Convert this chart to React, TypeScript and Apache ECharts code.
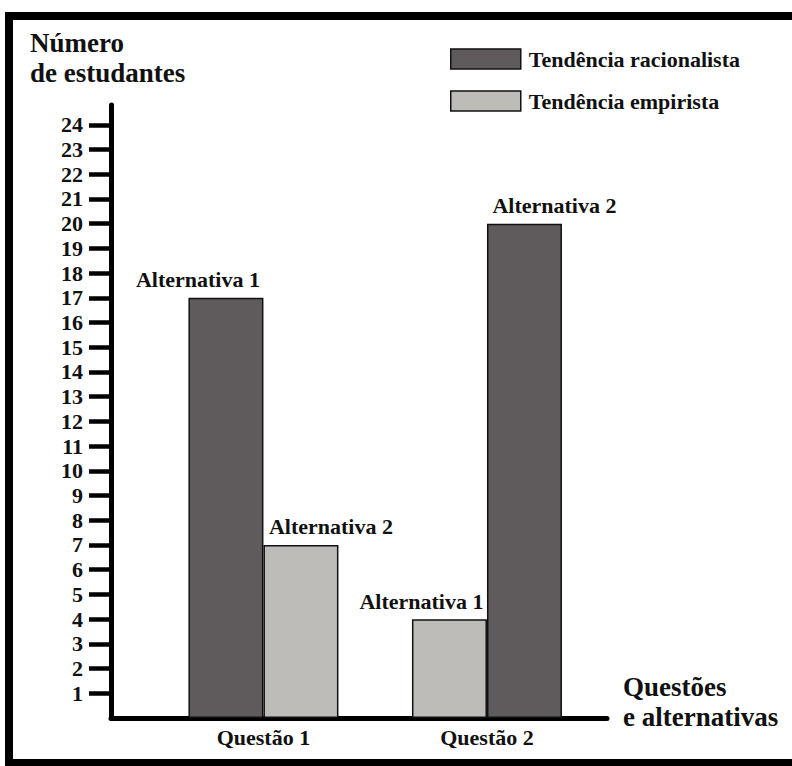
import React, { useEffect, useRef } from "react";
import * as echarts from "echarts";

const questions = ["Questão 1", "Questão 2"];
const questionIndex = [1, 2];
const alternativa1 = [17, 4];
const alternativa2 = [7, 20];
const tendencia1 = ["racionalista", "empirista"];
const tendencia2 = ["empirista", "racionalista"];
const tendencias = ["racionalista", "empirista"];
const tendenciaNames = ["Tendência racionalista", "Tendência empirista"];
const yTicks = [1, 2, 3, 4, 5, 6, 7, 8, 9, 10, 11, 12, 13, 14, 15, 16, 17, 18, 19, 20, 21, 22, 23, 24];
const yTitle = "Número\nde estudantes";
const xTitle = "Questões\ne alternativas";

const FONT = "Liberation Serif";
const colors: Record<string, string> = {
  racionalista: "#5f5a5c",
  empirista: "#bebcb9",
};
const INK = "#111";

export default function App() {
  const ref = useRef<HTMLDivElement>(null);
  useEffect(() => {
    if (!ref.current) return;
    const chart = echarts.init(ref.current, null, { renderer: "svg" });
    const barLabel = (dx: number) => ({
      show: true,
      position: "top",
      distance: 7,
      offset: [dx, 0],
      formatter: "{a}",
      fontFamily: FONT,
      fontWeight: "bold",
      fontSize: 22,
      color: INK,
    });
    const mkBar = (name: string, vals: number[], tend: string[], dx: number) => ({
      name,
      type: "bar",
      barWidth: 75,
      barGap: "0%",
      data: questionIndex.map((q, i) => ({
        value: [q, vals[i]],
        itemStyle: { color: colors[tend[i]], borderColor: INK, borderWidth: 1.5 },
      })),
      label: barLabel(dx),
    });
    const titleText = {
      fontFamily: FONT,
      fontWeight: "bold",
      fontSize: 27,
      lineHeight: 30,
      color: INK,
    };
    chart.setOption({
      animation: false,
      backgroundColor: "#fff",
      textStyle: { fontFamily: FONT },
      title: [
        { text: yTitle, left: 30, top: 28, padding: 0, textStyle: titleText },
        { text: xTitle, left: 623, top: 672, padding: 0, textStyle: titleText },
      ],
      legend: {
        orient: "vertical",
        left: 450,
        top: 48,
        padding: 0,
        itemWidth: 70,
        itemHeight: 20,
        itemGap: 20,
        icon: "rect",
        data: tendenciaNames.map((n, i) => ({
          name: n,
          itemStyle: { color: colors[tendencias[i]], borderColor: INK, borderWidth: 1.5 },
        })),
        textStyle: {
          fontFamily: FONT,
          fontWeight: "bold",
          fontSize: 22,
          color: INK,
          padding: [0, 0, 0, 3],
        },
      },
      grid: { left: 111, top: 105, width: 496, height: 613, outerBoundsMode: "none", containLabel: false },
      xAxis: {
        type: "value",
        min: 0.318,
        max: 2.537,
        axisLine: { show: true, lineStyle: { color: "#000", width: 5 } },
        axisTick: { show: false },
        splitLine: { show: false },
        axisLabel: {
          customValues: questionIndex,
          formatter: (v: number) => questions[questionIndex.indexOf(v)] ?? "",
          fontFamily: FONT,
          fontWeight: "bold",
          fontSize: 22,
          color: INK,
          margin: 8,
        },
      },
      yAxis: {
        type: "value",
        min: 0,
        max: 24.8,
        axisLine: { show: true, lineStyle: { color: "#000", width: 5 } },
        axisTick: {
          show: true,
          customValues: yTicks,
          length: 22,
          lineStyle: { color: "#000", width: 4.5 },
        },
        axisLabel: {
          customValues: yTicks,
          fontFamily: FONT,
          fontWeight: "bold",
          fontSize: 22,
          color: INK,
          margin: 28,
        },
        splitLine: { show: false },
      },
      series: [
        mkBar("Alternativa 1", alternativa1, tendencia1, -28),
        mkBar("Alternativa 2", alternativa2, tendencia2, 30),
        { name: tendenciaNames[0], type: "line", data: [], itemStyle: { color: colors.racionalista } },
        { name: tendenciaNames[1], type: "line", data: [], itemStyle: { color: colors.empirista } },
      ],
      graphic: [
        {
          type: "rect",
          silent: true,
          shape: { x: 9, y: 16, width: 800, height: 747 },
          style: { fill: "none", stroke: "#000", lineWidth: 8 },
        },
      ],
    });
    return () => chart.dispose();
  }, []);
  return (
    <div
      ref={ref}
      style={{ position: "fixed", left: 0, top: 0, width: 792, height: 766, background: "#fff" }}
    />
  );
}
